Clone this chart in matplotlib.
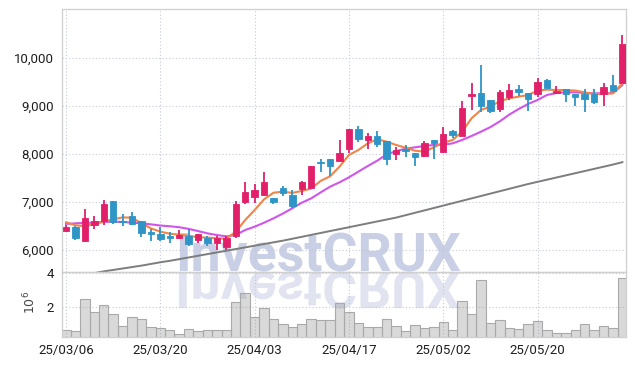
import matplotlib
matplotlib.use("Agg")
import matplotlib.pyplot as plt
from matplotlib.patheffects import AbstractPathEffect
from matplotlib.transforms import Affine2D

dates = ["25/03/06", "25/03/07", "25/03/10", "25/03/11", "25/03/12", "25/03/13", "25/03/14",
         "25/03/17", "25/03/18", "25/03/19", "25/03/20", "25/03/21", "25/03/24", "25/03/25",
         "25/03/26", "25/03/27", "25/03/28", "25/03/31", "25/04/01", "25/04/02", "25/04/03",
         "25/04/04", "25/04/07", "25/04/08", "25/04/09", "25/04/10", "25/04/11", "25/04/14",
         "25/04/15", "25/04/16", "25/04/17", "25/04/18", "25/04/21", "25/04/22", "25/04/23",
         "25/04/24", "25/04/25", "25/04/28", "25/04/29", "25/04/30", "25/05/02", "25/05/07",
         "25/05/08", "25/05/09", "25/05/12", "25/05/13", "25/05/14", "25/05/15", "25/05/16",
         "25/05/19", "25/05/20", "25/05/21", "25/05/22", "25/05/23", "25/05/26", "25/05/27",
         "25/05/28", "25/05/29", "25/05/30", "25/06/02"]

opens = [6400, 6480, 6190, 6530, 6600, 7020, 6610, 6700, 6600, 6380,
         6340, 6290, 6256, 6300, 6210, 6240, 6140, 6070, 6290, 6990,
         7110, 7150, 7080, 7290, 7150, 7270, 7300, 7830, 7890, 7860,
         8100, 8520, 8300, 8380, 8270, 8010, 8110, 8015, 7965, 8290,
         8050, 8480, 8380, 9205, 9270, 9125, 8930, 9180, 9355, 9265,
         9245, 9550, 9270, 9350, 9257, 9243, 9243, 9243, 9437, 9472]
highs = [6520, 6490, 6850, 6715, 7040, 7030, 6750, 6790, 6610, 6430,
         6470, 6380, 6425, 6437, 6340, 6300, 6290, 6300, 7030, 7410,
         7375, 7620, 7090, 7340, 7250, 7440, 7750, 7900, 7895, 8300,
         8525, 8580, 8430, 8480, 8280, 8150, 8195, 8020, 8270, 8295,
         8555, 8500, 9110, 9480, 9855, 9130, 9330, 9460, 9440, 9270,
         9580, 9555, 9410, 9355, 9260, 9355, 9355, 9470, 9645, 10480]
lows = [6370, 6210, 6160, 6440, 6520, 6535, 6505, 6530, 6265, 6195,
        6180, 6150, 6230, 6090, 6140, 6080, 6000, 6010, 6250, 6950,
        6970, 7130, 6950, 7120, 6880, 7150, 7270, 7620, 7550, 7855,
        8015, 8250, 8100, 8140, 7765, 7875, 7945, 7750, 7945, 7905,
        8030, 8335, 8375, 8920, 8870, 8860, 8885, 9125, 9210, 8890,
        9180, 9370, 9250, 9090, 9000, 8870, 9035, 9000, 9310, 9465]
closes = [6470, 6260, 6660, 6600, 6960, 6580, 6590, 6540, 6360, 6330,
          6220, 6240, 6310, 6130, 6330, 6140, 6240, 6260, 6960, 7210,
          7260, 7420, 6990, 7190, 6920, 7410, 7740, 7815, 7740, 8030,
          8520, 8310, 8375, 8200, 7890, 8080, 8055, 7940, 8220, 8230,
          8420, 8395, 8950, 9240, 8990, 8900, 9285, 9335, 9290, 9150,
          9495, 9375, 9320, 9245, 9195, 9153, 9090, 9390, 9313, 10285]

ma5 = [6577, 6514, 6500, 6535, 6597, 6640, 6680, 6673, 6556, 6451,
       6382, 6340, 6320, 6300, 6264, 6260, 6243, 6240, 6382, 6625,
       6833, 7056, 7194, 7215, 7190, 7230, 7280, 7440, 7535, 7736,
       7979, 8083, 8222, 8306, 8257, 8188, 8132, 8069, 8048, 8139,
       8236, 8292, 8465, 8743, 8917, 8986, 9100, 9160, 9194, 9229,
       9320, 9340, 9333, 9333, 9320, 9285, 9250, 9250, 9264, 9472]
ma10 = [6545, 6555, 6565, 6570, 6585, 6590, 6585, 6570, 6556, 6535,
        6510, 6495, 6475, 6440, 6395, 6347, 6312, 6285, 6312, 6417,
        6486, 6569, 6660, 6760, 6870, 6986, 7076, 7200, 7319, 7410,
        7514, 7632, 7750, 7861, 7990, 8060, 8110, 8139, 8167, 8188,
        8195, 8222, 8292, 8375, 8465, 8560, 8680, 8820, 8937, 9042,
        9125, 9229, 9270, 9285, 9285, 9270, 9264, 9264, 9270, 9437]
ma_long = [5430, 5460, 5490, 5520, 5555, 5585, 5615, 5645, 5675, 5710,
           5745, 5775, 5810, 5845, 5880, 5915, 5950, 5985, 6020, 6055,
           6090, 6125, 6160, 6195, 6235, 6275, 6315, 6355, 6395, 6435,
           6475, 6515, 6555, 6595, 6635, 6675, 6725, 6775, 6825, 6875,
           6925, 6975, 7025, 7075, 7125, 7175, 7225, 7275, 7325, 7375,
           7420, 7465, 7510, 7555, 7600, 7645, 7690, 7735, 7780, 7830]

volumes = [0.60, 0.54, 2.44, 1.66, 2.08, 1.56, 0.82, 1.36, 1.24, 0.76,
           0.70, 0.58, 0.34, 0.64, 0.54, 0.58, 0.58, 0.58, 2.26, 2.80,
           1.36, 1.90, 1.24, 0.96, 0.76, 0.94, 1.24, 1.18, 1.18, 2.20,
           1.66, 1.00, 0.76, 0.76, 1.24, 0.84, 0.54, 0.88, 0.70, 0.76,
           1.06, 0.58, 2.32, 1.56, 3.57, 1.00, 1.18, 0.70, 0.64, 0.94,
           1.12, 0.58, 0.40, 0.40, 0.58, 0.94, 0.58, 0.82, 0.70, 3.69]

price_ticks = [6000, 7000, 8000, 9000, 10000]
vol_ticks = [2, 4]
tick_step = 10

UP = "#e2206a"
DOWN = "#2e95c6"
GRID = "#c3c8dc"
SPINE = "#cfcfcf"
LABEL_FONT = ["Roboto", "DejaVu Sans"]


class VFlip(AbstractPathEffect):
    def __init__(self, fig, y_frac, scale=1.0):
        super().__init__()
        self.fig = fig
        self.y_frac = y_frac
        self.scale = scale

    def draw_path(self, renderer, gc, tpath, affine, rgbFace=None):
        y0 = self.fig.bbox.height * self.y_frac
        flip = Affine2D().translate(0, -y0).scale(1, -self.scale).translate(0, y0)
        renderer.draw_path(gc, tpath, affine + flip, rgbFace)


fig = plt.figure(figsize=(6.35, 3.66), dpi=100)
left, width = 0.0976, 0.8882
ax = fig.add_axes([left, 0.2568, width, 0.7186])
axv = fig.add_axes([left, 0.0784, width, 0.1784], sharex=ax)
for a in (ax, axv):
    a.patch.set_visible(False)
    for s in a.spines.values():
        s.set_color(SPINE)
        s.set_linewidth(0.9)
    a.grid(True, linestyle=(0, (1, 2)), color=GRID, linewidth=0.8)
    a.set_axisbelow(True)
    a.tick_params(length=0, labelsize=9.5, labelcolor="#1e1e1e")

n = len(closes)
idx = list(range(n))
colors = [UP if c >= o else DOWN for o, c in zip(opens, closes)]

# moving averages
ax.plot(idx, ma_long, color="#7d7d7d", lw=1.4, zorder=2)
ax.plot(idx, ma10, color="#d055ea", lw=1.5, zorder=3)
ax.plot(idx, ma5, color="#f0844a", lw=1.5, zorder=3)

# candles
ax.vlines(idx, lows, highs, colors=colors, lw=1.3, zorder=4)
bottoms = [min(o, c) for o, c in zip(opens, closes)]
heights = [abs(c - o) for o, c in zip(opens, closes)]
ax.bar(idx, heights, bottom=bottoms, width=0.68, color=colors,
       edgecolor=colors, linewidth=0.6, zorder=5)

ax.set_xlim(-0.43, n - 0.62)
ax.set_ylim(5542, 11020)
ax.set_yticks(price_ticks)
ax.set_yticklabels([f"{t:,}" for t in price_ticks], family=LABEL_FONT)
ax.tick_params(axis="x", labelbottom=False)
ax.tick_params(axis="y", pad=6)

# volume
axv.bar(idx, volumes, width=1.0, color=(0.55, 0.55, 0.55, 0.33),
        edgecolor="#a9a9a9", linewidth=0.8, zorder=2)
axv.set_ylim(0.16, 4.06)
axv.set_yticks(vol_ticks)
axv.set_yticklabels([str(t) for t in vol_ticks], family=LABEL_FONT)
axv.tick_params(axis="y", pad=6)
xt = idx[::tick_step]
axv.set_xticks(xt)
axv.set_xticklabels([dates[i] for i in xt], family=LABEL_FONT)
axv.tick_params(axis="x", pad=5)

fig.text(30 / 635, 1 - 302 / 366, r"$10^6$", rotation=90, ha="center",
         va="center", fontsize=9, color="#444444")

# watermark with reflection
base_y = 1 - 272 / 366
wm_kw = dict(ha="left", va="baseline", fontsize=38.5, fontweight="bold",
             family=["Roboto", "DejaVu Sans"], color="#c9cfe5", zorder=-5)
fig.text(175 / 635, base_y, "InvestCRUX", **wm_kw)
refl = fig.text(175 / 635, base_y, "InvestCRUX", alpha=0.55, **wm_kw)
refl.set_path_effects([VFlip(fig, base_y, 0.95)])

fig.savefig("out.png", dpi=100)
